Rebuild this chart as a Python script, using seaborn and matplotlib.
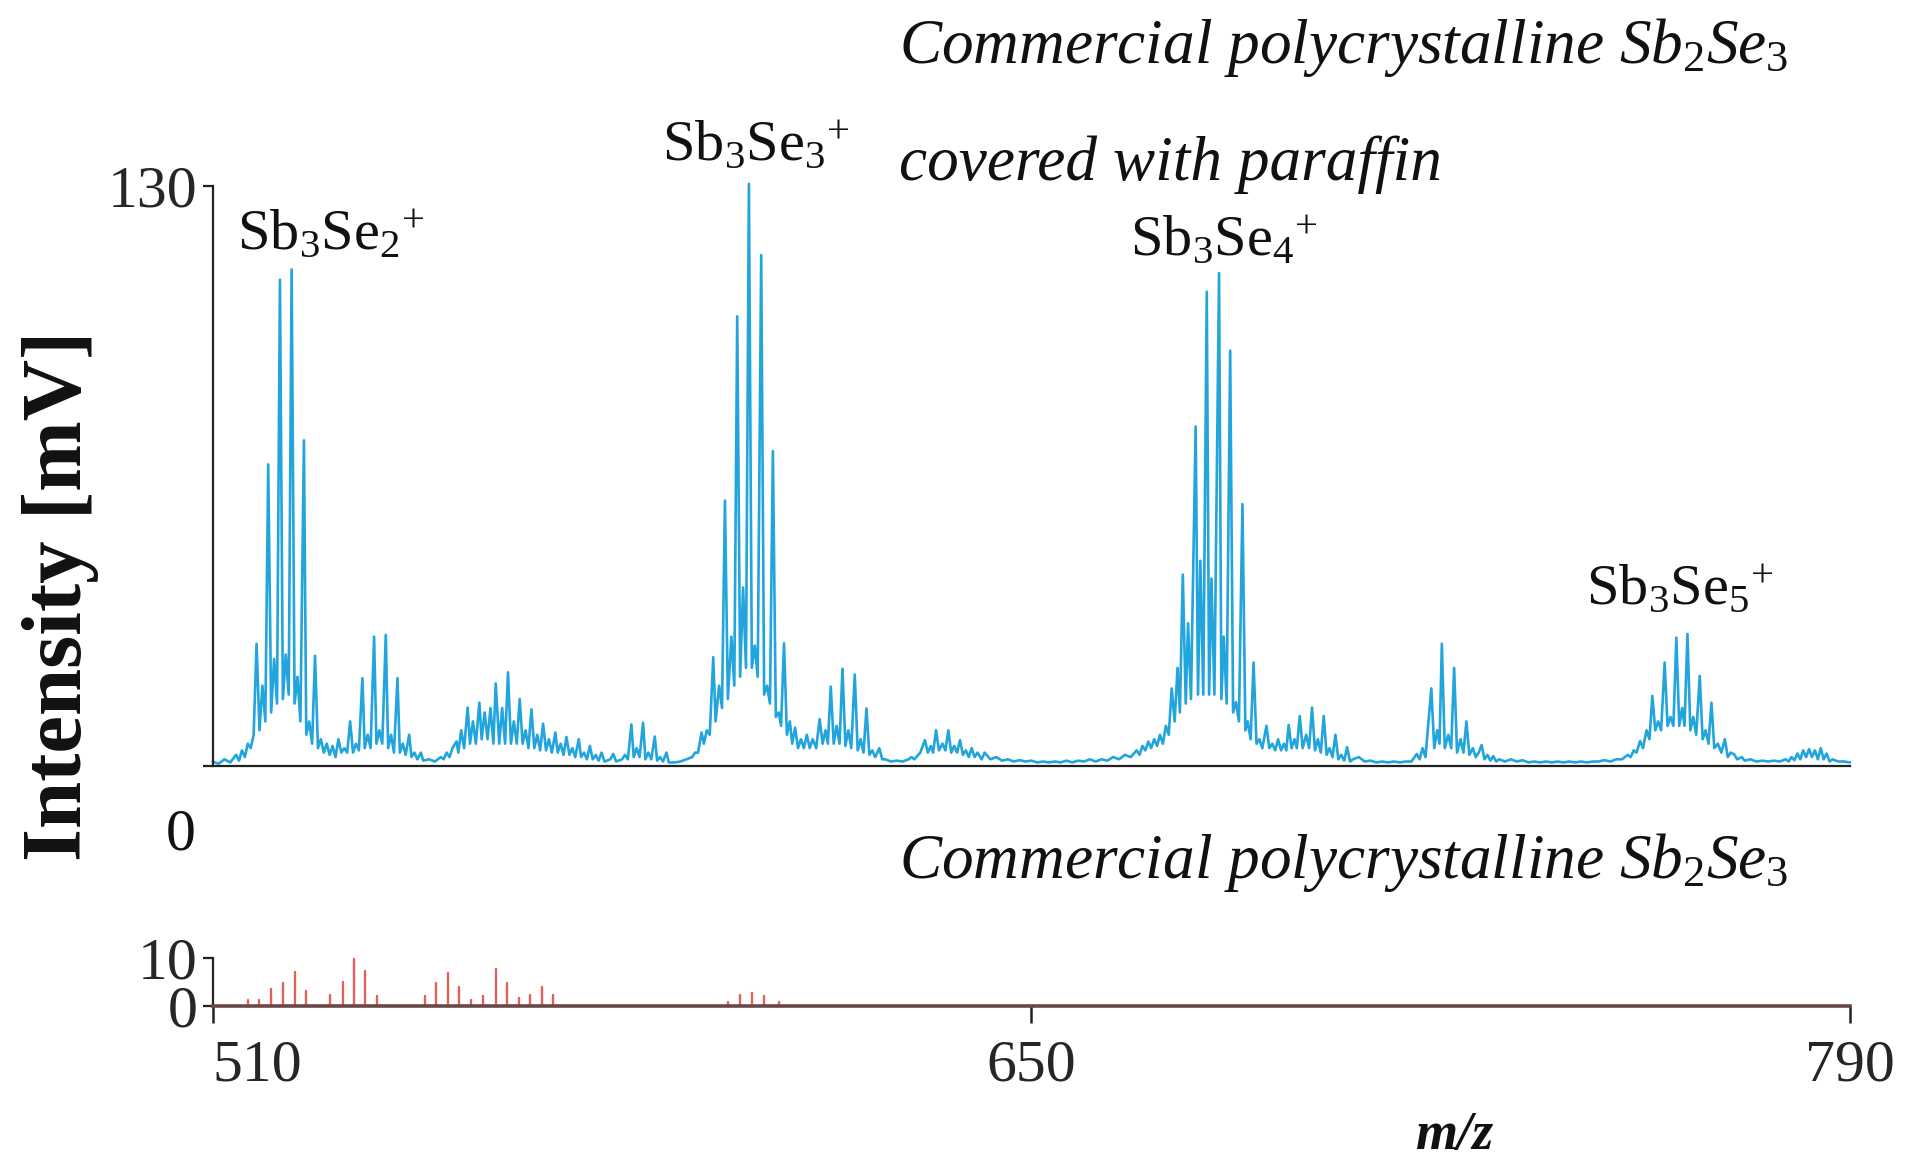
import matplotlib
matplotlib.use("Agg")
import matplotlib.pyplot as plt
import seaborn as sns
import pandas as pd

# ---------------- data ----------------
# top spectrum: Sb2Se3 covered with paraffin, vertices (m/z, intensity mV)
seg_510_546 = [
    (510, 1.0), (511, 0.5), (512, 1.5), (513, 0.8), (514, 2.5), (514.5, 1.2), (515, 3.5), (515.5, 2.0),
    (516, 5.0), (516.5, 4.0), (517, 7.0), (517.5, 27.4), (518, 8.0), (518.5, 18.0), (519, 10.0),
    (519.5, 67.6), (520, 12.0), (520.5, 24.0), (521, 14.0), (521.5, 109.0), (522, 15.0), (522.5, 25.0),
    (523, 16.0), (523.5, 111.3), (524, 14.0), (524.5, 20.0), (525, 10.0), (525.6, 73.0), (526, 7.0),
    (526.5, 10.0), (527, 5.0), (527.5, 24.7), (528, 4.0), (528.5, 6.0), (529, 3.0), (529.5, 5.0),
    (530, 2.5), (530.5, 4.5), (531, 2.0), (531.5, 6.0), (532, 3.0), (532.5, 4.0), (533, 3.0),
    (533.5, 10.0), (534, 3.0), (534.5, 5.0), (535, 3.5), (535.6, 19.7), (536, 4.0), (536.5, 7.0),
    (537, 4.0), (537.6, 29.0), (538, 5.0), (538.5, 8.0), (539, 5.0), (539.6, 29.4), (540, 4.0),
    (540.5, 7.0), (541, 3.0), (541.6, 19.7), (542, 3.0), (542.5, 5.0), (543, 2.5), (543.6, 7.0),
    (544, 2.0), (544.5, 3.0), (545, 1.5), (545.6, 3.0), (546, 1.2),
]
seg_547_590 = [
    (547, 1.5), (548, 1.0), (549, 2.0), (549.5, 1.5), (550, 3.0), (550.5, 2.0), (551, 4.0), (551.7, 5.5),
    (552, 3.0), (552.5, 8.0), (553, 4.0), (553.6, 13.1), (554, 5.0), (554.5, 10.0), (555, 5.0),
    (555.6, 14.2), (556, 6.0), (556.5, 12.0), (557, 6.0), (557.5, 13.0), (558, 5.0), (558.4, 18.5),
    (559, 5.0), (559.5, 13.0), (560, 5.0), (560.5, 21.0), (561, 5.0), (561.5, 10.0), (562, 5.0),
    (562.5, 15.0), (563, 5.0), (563.5, 8.0), (564, 4.0), (564.5, 12.7), (565, 4.0), (565.5, 7.0),
    (566, 3.5), (566.5, 9.5), (567, 3.5), (567.5, 6.0), (568, 3.0), (568.6, 7.5), (569, 3.0),
    (569.5, 5.0), (570, 2.5), (570.5, 6.5), (571, 2.5), (571.5, 4.0), (572, 2.0), (572.6, 6.0),
    (573, 2.0), (573.5, 3.0), (574, 1.5), (574.5, 4.5), (575, 1.5), (575.5, 2.5), (576, 1.2),
    (576.5, 3.0), (577, 1.0), (578, 1.5), (578.5, 2.7), (579, 1.0), (580, 1.5), (580.5, 2.5),
    (581, 1.5), (581.6, 9.3), (582, 2.0), (582.5, 4.0), (583, 2.0), (583.6, 9.7), (584, 1.5),
    (584.5, 3.0), (585, 1.5), (585.6, 6.6), (586, 1.2), (586.5, 2.0), (587, 1.0), (587.6, 3.0),
    (588, 0.8), (589, 0.8), (590, 1.0),
]
seg_591_630 = [
    (591, 1.5), (592, 2.0), (592.5, 3.0), (593, 3.0), (593.6, 7.5), (594, 5.0), (594.5, 8.0), (595, 7.0),
    (595.6, 24.4), (596, 10.0), (596.6, 18.0), (597.1, 13.0), (597.6, 59.5), (598.1, 15.0), (598.7, 29.0),
    (599.2, 18.0), (599.7, 100.8), (600.2, 20.0), (600.7, 40.0), (601.2, 22.0), (601.7, 130.5),
    (602.2, 22.0), (602.7, 27.0), (603.2, 20.0), (603.8, 114.5), (604.3, 16.0), (604.8, 18.0),
    (605.3, 14.0), (605.8, 70.6), (606.3, 11.0), (606.8, 12.0), (607.2, 9.0), (607.7, 27.5),
    (608.2, 7.0), (608.7, 10.0), (609.1, 5.0), (609.6, 8.6), (610.1, 4.0), (610.6, 6.0), (611.1, 4.0),
    (611.6, 7.0), (612.1, 4.0), (612.6, 6.0), (613.2, 4.0), (613.8, 10.5), (614.3, 5.0), (614.8, 8.0),
    (615.2, 5.0), (615.7, 17.8), (616.2, 5.0), (616.7, 9.0), (617.2, 5.0), (617.7, 21.8), (618.2, 4.5),
    (618.7, 8.0), (619.2, 4.0), (619.8, 20.5), (620.3, 3.5), (620.8, 6.0), (621.3, 3.0), (621.8, 12.9),
    (622.3, 2.5), (622.8, 3.5), (623.3, 2.0), (624, 4.0), (624.5, 1.5), (625, 1.5), (626, 1.0),
    (627, 1.2), (628, 1.0), (629, 1.5), (629.5, 2.0), (630, 1.5),
]
seg_631_705 = [
    (631, 3.0), (631.8, 5.8), (632.3, 3.0), (632.8, 4.5), (633.2, 3.0), (633.7, 8.0), (634.2, 3.5),
    (634.8, 5.0), (635.3, 3.5), (635.8, 8.0), (636.3, 3.0), (636.8, 4.5), (637.3, 3.0), (637.8, 5.8),
    (638.3, 2.5), (638.8, 3.5), (639.3, 2.0), (639.8, 4.0), (640.3, 2.0), (640.8, 3.0), (641.5, 1.5),
    (642, 3.0), (643, 1.5), (644, 2.0), (645, 1.2), (646, 1.5), (647, 1.0), (648, 1.3), (649, 1.0),
    (650, 1.2), (651, 0.8), (652, 1.0), (653, 0.8), (654, 1.0), (655, 0.8), (656, 1.2), (657, 0.8),
    (658, 1.2), (659, 1.0), (660, 1.5), (661, 1.0), (662, 1.5), (663, 1.2), (664, 2.0), (665, 1.5),
    (666, 2.5), (667, 2.0), (668, 3.5), (668.5, 2.5), (669, 4.5), (669.5, 3.5), (670, 5.5), (670.5, 4.0),
    (671, 6.0), (671.5, 4.5), (672, 7.0), (672.5, 5.0), (673, 9.0), (673.5, 7.0), (674, 17.4),
    (674.5, 10.0), (675, 22.0), (675.4, 12.0), (675.9, 42.9), (676.4, 14.0), (676.8, 32.0),
    (677.3, 15.0), (678.1, 76.1), (678.5, 16.0), (678.9, 46.0), (679.4, 16.0), (680, 106.3),
    (680.4, 16.0), (680.8, 42.0), (681.3, 16.0), (682.1, 110.5), (682.5, 15.0), (682.9, 29.0),
    (683.4, 14.0), (684, 93.1), (684.5, 12.0), (685, 14.3), (685.5, 10.0), (686.1, 58.7), (686.6, 8.0),
    (687, 10.0), (687.5, 6.0), (688, 23.2), (688.5, 5.0), (689, 6.0), (689.5, 4.0), (690.2, 9.0),
    (690.7, 4.0), (691.2, 5.0), (691.7, 3.5), (692.2, 6.0), (692.7, 3.5), (693.2, 5.0), (693.6, 3.5),
    (694, 9.2), (694.5, 4.0), (695, 6.0), (695.4, 4.0), (695.9, 11.2), (696.4, 4.0), (697, 7.0),
    (697.5, 4.0), (698, 13.1), (698.5, 3.5), (699, 6.0), (699.5, 3.0), (700, 11.2), (700.5, 2.5),
    (701, 4.0), (701.5, 2.0), (702, 7.0), (702.5, 1.5), (703, 2.5), (703.5, 1.2), (704, 4.2),
    (704.5, 1.0), (705, 1.5),
]
seg_706_790 = [
    (706, 2.0), (707, 1.0), (708, 1.2), (709, 0.8), (710, 1.0), (711, 0.8), (712, 1.0), (713, 0.8),
    (714, 1.0), (715, 1.0), (715.9, 2.7), (716.4, 1.5), (716.9, 4.0), (717.4, 2.0), (718.4, 17.4),
    (718.9, 4.0), (719.4, 8.0), (719.8, 5.0), (720.2, 27.4), (720.7, 4.0), (721.3, 7.0), (721.8, 4.0),
    (722.3, 22.0), (722.8, 3.0), (723.4, 6.0), (723.9, 3.0), (724.4, 10.0), (724.9, 2.5), (725.5, 4.0),
    (726, 2.0), (726.5, 3.0), (727, 4.7), (727.5, 1.5), (728, 2.5), (728.5, 1.2), (729, 2.2),
    (729.5, 1.0), (730, 1.5), (731, 1.0), (732, 1.5), (733, 1.0), (734, 1.3), (735, 0.8), (736, 1.0),
    (737, 0.8), (738, 1.0), (739, 0.8), (740, 1.0), (741, 0.8), (742, 1.0), (743, 0.8), (744, 1.0),
    (745, 0.8), (746, 1.0), (747, 1.0), (748, 1.3), (749, 1.0), (750, 1.5), (751, 1.5), (752, 2.5),
    (752.5, 2.0), (753, 3.5), (753.5, 3.0), (754.1, 5.6), (754.6, 4.0), (755.2, 8.0), (755.7, 6.0),
    (756.2, 15.7), (756.7, 8.0), (757.2, 10.0), (757.7, 8.0), (758.3, 23.2), (758.8, 9.0),
    (759.3, 11.0), (759.8, 9.0), (760.3, 28.8), (760.8, 9.0), (761.3, 13.0), (761.7, 9.0),
    (762.2, 29.6), (762.7, 8.0), (763.2, 11.0), (763.7, 7.0), (764.3, 20.2), (764.8, 6.0),
    (765.3, 8.0), (765.8, 5.0), (766.3, 14.2), (766.8, 4.0), (767.4, 5.0), (768, 3.0), (768.6, 6.0),
    (769.1, 2.0), (769.6, 3.0), (770.2, 2.6), (770.7, 1.5), (771.5, 2.0), (772, 1.2), (773, 1.5),
    (774, 1.0), (775, 1.2), (776, 1.0), (777, 1.2), (778, 1.0), (779, 1.5), (779.5, 1.0), (780, 2.0),
    (780.5, 1.3), (781, 2.8), (781.5, 1.5), (782, 3.5), (782.5, 2.0), (783, 3.8), (783.5, 2.0),
    (784, 3.5), (784.5, 1.5), (785, 4.0), (785.5, 1.5), (786, 2.8), (786.5, 1.0), (787, 1.5),
    (788, 1.0), (789, 1.0), (790, 0.8),
]

# bottom spectrum: commercial polycrystalline Sb2Se3 (stick peaks)
ref_mz = [516.1, 517.9, 520.0, 522.0, 524.0, 526.0, 530.0, 532.2, 534.2, 536.0, 538.1,
          546.3, 548.2, 550.3, 552.2, 554.2, 556.3, 558.4, 560.4, 562.4, 564.3, 566.4, 568.2,
          598.2, 600.2, 602.2, 604.2, 606.8]
ref_int = [1.3, 1.3, 3.5, 4.8, 7.0, 3.2, 2.3, 4.9, 9.7, 7.2, 2.0,
           2.0, 4.8, 6.9, 3.9, 1.3, 2.1, 7.7, 4.8, 1.6, 2.3, 3.9, 2.3,
           0.9, 2.3, 2.8, 2.0, 0.9]

ion_labels = [r"$\mathrm{Sb_3Se_2}^{+}$", r"$\mathrm{Sb_3Se_3}^{+}$",
              r"$\mathrm{Sb_3Se_4}^{+}$", r"$\mathrm{Sb_3Se_5}^{+}$"]
ion_label_mz = [514.2, 586.9, 666.9, 744.9]
ion_label_int = [115.9, 135.7, 114.5, 36.3]

x_ticks = [510, 650, 790]

# ---------------- build tables ----------------
top_pts = seg_510_546 + seg_547_590 + seg_591_630 + seg_631_705 + seg_706_790
df_top = pd.DataFrame(top_pts, columns=["mz", "intensity"])

rows = []
for k, (m, h) in enumerate(zip(ref_mz, ref_int)):
    rows.append((m, 0.0, k))
    rows.append((m, h, k))
df_ref = pd.DataFrame(rows, columns=["mz", "intensity", "peak"])

# ---------------- style ----------------
sns.set_theme(style="ticks")
plt.rcParams["font.family"] = ["Liberation Serif", "DejaVu Serif"]
plt.rcParams["mathtext.fontset"] = "custom"
plt.rcParams["mathtext.rm"] = "Liberation Serif"
plt.rcParams["mathtext.it"] = "Liberation Serif:italic"
plt.rcParams["mathtext.bf"] = "Liberation Serif:bold"
plt.rcParams["mathtext.default"] = "it"

W, H = 1906, 1158
fig = plt.figure(figsize=(W / 100, H / 100), dpi=100)

def fx(px):
    return px / W

def fy(py):
    return 1 - py / H

x_left, x_right = 212.7, 1850.0
ax_top = fig.add_axes([fx(x_left), fy(766), fx(x_right) - fx(x_left), fy(186) - fy(766)])
ax_bot = fig.add_axes([fx(x_left), fy(1006), fx(x_right) - fx(x_left), fy(958) - fy(1006)])

blue = "#22a4dc"
red = "#e0605a"
tick_fs = 43

# top spectrum
sns.lineplot(data=df_top, x="mz", y="intensity", ax=ax_top, color=blue, linewidth=1.9,
             estimator=None, sort=False, clip_on=False)
ax_top.set_xlim(510, 790)
ax_top.set_ylim(0, 130)
ax_top.set_xlabel("")
ax_top.set_ylabel("")
ax_top.set_xticks([])
ax_top.set_yticks([0, 130])
ax_top.set_yticklabels(["", "130"])
for s in ["top", "right"]:
    ax_top.spines[s].set_visible(False)
for s in ["left", "bottom"]:
    ax_top.spines[s].set_color("#222222")
    ax_top.spines[s].set_linewidth(1.6)
ax_top.tick_params(axis="y", direction="out", length=7, width=1.6, color="#222222",
                   labelsize=tick_fs, pad=4)
ax_top.annotate("0", xy=(0, 0), xycoords=("axes fraction", "data"),
                xytext=(-17, -70), textcoords="offset pixels",
                ha="right", va="center", fontsize=tick_fs, color="#111111")
ax_top.patch.set_alpha(0)

for lab, m, i in zip(ion_labels, ion_label_mz, ion_label_int):
    ax_top.text(m, i, lab, ha="left", va="baseline", fontsize=42, color="#111111", clip_on=False)

# bottom spectrum
sns.lineplot(data=df_ref, x="mz", y="intensity", units="peak", ax=ax_bot, color=red,
             linewidth=1.7, estimator=None, sort=False)
ax_bot.set_xlim(510, 790)
ax_bot.set_ylim(0, 10)
ax_bot.set_xlabel("")
ax_bot.set_ylabel("")
ax_bot.set_yticks([0, 10])
ax_bot.set_yticklabels(["0", "10"])
ax_bot.set_xticks(x_ticks)
ax_bot.set_xticklabels([str(v) for v in x_ticks])
for s in ["top", "right"]:
    ax_bot.spines[s].set_visible(False)
ax_bot.spines["left"].set_color("#222222")
ax_bot.spines["left"].set_linewidth(1.6)
ax_bot.spines["bottom"].set_color("#6a4646")
ax_bot.spines["bottom"].set_linewidth(2.6)
ax_bot.tick_params(axis="y", direction="out", length=7, width=1.6, color="#222222",
                   labelsize=tick_fs, pad=4)
ax_bot.tick_params(axis="x", direction="out", length=12, width=1.8, color="#222222",
                   labelsize=tick_fs, pad=12)
ax_bot.patch.set_alpha(0)
xl = ax_bot.get_xticklabels()
xl[0].set_ha("left")

# texts
title_fs = 45.5
fig.text(fx(899.5), fy(63), r"Commercial polycrystalline $Sb_2Se_3$", fontsize=title_fs,
         style="italic", ha="left", va="baseline", color="#111111")
fig.text(fx(899.5), fy(180), "covered with paraffin", fontsize=title_fs,
         style="italic", ha="left", va="baseline", color="#111111")
fig.text(fx(899.5), fy(877.6), r"Commercial polycrystalline $Sb_2Se_3$", fontsize=title_fs,
         style="italic", ha="left", va="baseline", color="#111111")
fig.text(fx(61), fy(596), "Intensity [mV]", fontsize=61, fontweight="bold", rotation=90,
         ha="center", va="center", color="#111111")
fig.text(fx(1455), fy(1136), "m/z", fontsize=39, fontweight="bold", style="italic",
         ha="center", va="center", color="#111111")

fig.savefig("out.png", dpi=100, facecolor="white")
